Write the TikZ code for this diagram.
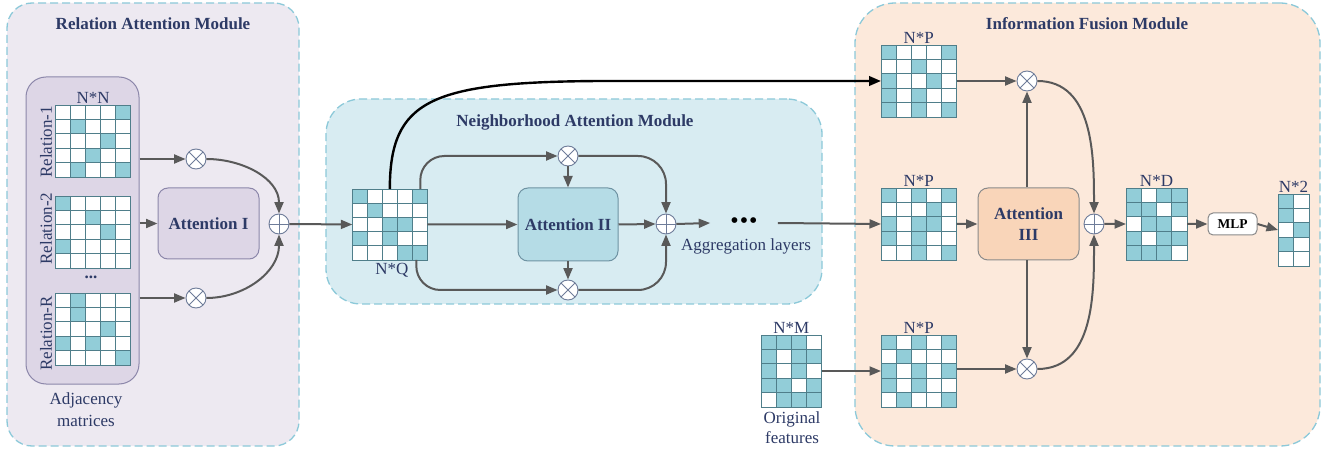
\documentclass[tikz,border=0pt]{standalone}
\usepackage{fontspec}
\setmainfont{Liberation Serif}
\usetikzlibrary{arrows.meta,calc}
\definecolor{ramfill}{HTML}{EDE9F1}
\definecolor{adjfill}{HTML}{DDD6E6}
\definecolor{adjdraw}{HTML}{8C87AA}
\definecolor{namfill}{HTML}{D8ECF2}
\definecolor{attiifill}{HTML}{B5DCE6}
\definecolor{attiidraw}{HTML}{6F93A3}
\definecolor{ifmfill}{HTML}{FCE9DB}
\definecolor{attiiifill}{HTML}{F9D5B9}
\definecolor{boxgray}{HTML}{8A8A8A}
\definecolor{dashc}{HTML}{8CC9D9}
\definecolor{arrgray}{HTML}{595959}
\definecolor{cellon}{HTML}{92CDD8}
\definecolor{gridc}{HTML}{4F7E8A}
\definecolor{circb}{HTML}{6E7C99}
\definecolor{navy}{HTML}{2D3A66}
\newcommand{\fsz}{\fontsize{17}{21}\selectfont}
\newcommand{\gridmat}[8]{%
  \node[inner sep=0pt, outer sep=0pt, minimum width={#4*#6pt}, minimum height={#5*#7pt}, anchor=north west] (#1) at (#2,#3) {};
  \foreach \rw [count=\ri from 0] in {#8} {
    \foreach \val [count=\ci from 0] in \rw {
      \ifnum\val=1\relax\def\cc{cellon}\else\def\cc{white}\fi
      \filldraw[gridln, fill=\cc] ({#2+\ci*#6},{#3+\ri*#7}) rectangle ++(#6,#7);
    }
  }
  \draw[gridln] (#1.north west) rectangle (#1.south east);
}
\begin{document}
\begin{tikzpicture}[x=1pt,y=-1pt,
  modbox/.style={draw=dashc, dash pattern=on 8pt off 4pt, line width=1.3pt, inner sep=0pt},
  gridln/.style={draw=gridc, line width=0.9pt},
  ttl/.style={font=\fsz\bfseries, text=navy},
  lbl/.style={font=\fsz, text=navy},
  attbox/.style={rounded corners=10pt, line width=1pt, font=\fsz\bfseries, text=navy, align=center, inner sep=0pt},
  arr/.style={draw=arrgray, line width=2pt, -{Triangle[length=11.5pt,width=9pt]}},
  blk/.style={draw=black, line width=2.4pt, -{Triangle[length=12pt,width=9.5pt]}},
  otimes/.style={circle, draw=circb, line width=0.9pt, fill=white, minimum size=20pt, inner sep=0pt,
    path picture={\draw[circb, line width=0.9pt] (path picture bounding box.north west) -- (path picture bounding box.south east) (path picture bounding box.north east) -- (path picture bounding box.south west);}},
  oplus/.style={circle, draw=circb, line width=0.9pt, fill=white, minimum size=20pt, inner sep=0pt,
    path picture={\draw[circb, line width=0.9pt] (path picture bounding box.north) -- (path picture bounding box.south) (path picture bounding box.east) -- (path picture bounding box.west);}}
]
\useasboundingbox (0,0) rectangle (1333,454);
\fill[white] (0,0) rectangle (1333,454);

% ---------- module backgrounds
\node[modbox, fill=ramfill, minimum width=292, minimum height=443, rounded corners=25pt] (ram) at (153,224.5) {};
\node[modbox, fill=namfill, minimum width=496, minimum height=205, rounded corners=35pt] (nam) at (574,201.5) {};
\node[modbox, fill=ifmfill, minimum width=465, minimum height=443, rounded corners=40pt] (ifm) at (1087.5,224.5) {};

\node[ttl, anchor=base] (tram) at (153,30) {Relation Attention Module};
\node[ttl, anchor=base] (tnam) at (575,126.5) {Neighborhood Attention Module};
\node[ttl, anchor=base] (tifm) at (1087,30) {Information Fusion Module};

% ---------- relation attention module
\node[draw=adjdraw, fill=adjfill, line width=1pt, rounded corners=20pt, minimum width=113, minimum height=307, inner sep=0pt] (adj) at (82.5,230.5) {};
\gridmat{ma}{55.7}{105}{5}{5}{15}{14.4}{{0,0,0,0,1},{0,1,0,0,0},{0,0,0,1,0},{0,0,1,0,0},{0,1,0,0,1}}
\gridmat{mb}{55.7}{196}{5}{5}{15}{14.4}{{1,0,0,0,0},{0,0,1,0,0},{0,0,0,1,0},{1,0,0,0,0},{0,0,0,0,0}}
\gridmat{mc}{55.7}{293}{5}{5}{15}{14.4}{{0,1,0,0,0},{0,1,0,0,0},{0,0,0,1,0},{1,0,1,0,0},{0,0,0,0,1}}
\node[lbl, anchor=base] (lnn) at ([yshift=1.5pt]ma.north) {N*N};
\node[lbl, rotate=90] (r1) at (46,142) {Relation-1};
\node[lbl, rotate=90] (r2) at (46,228.5) {Relation-2};
\node[lbl, rotate=90] (r3) at (46,333.5) {Relation-R};
\node[font=\fsz\bfseries, text=navy, inner sep=0pt] (vd) at (91,277) {...};
\node[lbl, anchor=base, align=center] (adjl) at (86,404) {Adjacency};
\node[lbl, anchor=base] (adjm) at (86,426) {matrices};

\node[otimes] (oa) at (196,159) {};
\node[otimes] (ob) at (196,298) {};
\node[attbox, draw=adjdraw, fill=adjfill, minimum width=101, minimum height=71] (att1) at (208.5,223.5) {Attention I};
\node[oplus] (pa) at (279,224) {};

\draw[arr] (oa.west -| adj.east) -- (oa.west);
\draw[arr] (ob.west -| adj.east) -- (ob.west);
\draw[arr] (att1.west -| adj.east) -- (att1.west);
\draw[arr] (oa.east) to[out=0,in=90] (pa.north);
\draw[arr] (ob.east) to[out=0,in=-90] (pa.south);

% ---------- neighborhood attention module
\gridmat{nq}{352.3}{189}{5}{5}{15}{14.2}{{1,0,0,0,1},{0,1,0,0,0},{0,0,1,1,0},{1,0,1,0,0},{0,0,0,1,1}}
\node[lbl, anchor=base] (lnq) at ([xshift=2pt,yshift=-15pt]nq.south) {N*Q};
\draw[arr] (pa.east) -- (nq.west);

\node[otimes] (oc) at (568,156) {};
\node[otimes] (od) at (568,290) {};
\node[attbox, draw=attiidraw, fill=attiifill, minimum width=100, minimum height=73] (att2) at (568,224.5) {Attention II};
\node[oplus] (pb) at (666,224) {};
\node[font=\fontsize{24}{24}\selectfont, inner sep=0pt] (dots) at (744,223) {\textbullet\hspace{1pt}\textbullet\hspace{1pt}\textbullet};
\node[lbl, anchor=base] (aggl) at (746,250.5) {Aggregation layers};

\draw[arr] (nq.east) -- (att2.west);
\draw[arr, rounded corners=24pt] ([xshift=-7pt]nq.north east) |- (oc.west);
\draw[arr, rounded corners=24pt] ([xshift=-11pt]nq.south east) |- (od.west);
\draw[arr] (oc.south) -- (att2.north);
\draw[arr] (att2.south) -- (od.north);
\draw[arr] (att2.east) -- (pb.west);
\draw[arr, rounded corners=28pt] (oc.east) -| (pb.north);
\draw[arr, rounded corners=28pt] (od.east) -| (pb.south);
\draw[arr] (pb.east) -- ([xshift=-20pt]dots.west);

% ---------- information fusion module
\gridmat{pa1}{881}{45}{5}{5}{15.1}{14.4}{{1,0,0,0,1},{0,0,1,0,0},{1,0,0,1,0},{1,0,1,0,0},{1,0,1,0,1}}
\gridmat{pa2}{881}{188}{5}{5}{15.1}{14.4}{{1,0,1,0,1},{0,0,0,1,0},{1,0,1,1,0},{1,0,1,0,0},{0,0,1,0,1}}
\gridmat{pa3}{881}{335}{5}{5}{15.1}{14.4}{{1,0,1,0,1},{0,1,0,0,0},{1,0,1,0,1},{1,0,1,0,0},{0,1,0,0,1}}
\node[lbl, anchor=base] (lp1) at ([yshift=1.5pt]pa1.north) {N*P};
\node[lbl, anchor=base] (lp2) at ([yshift=1.5pt]pa2.north) {N*P};
\node[lbl, anchor=base] (lp3) at ([yshift=1.5pt]pa3.north) {N*P};

\gridmat{nm}{761}{335}{4}{5}{15.2}{14.4}{{1,1,1,0},{1,0,1,1},{1,0,1,0},{1,1,0,1},{0,1,1,1}}
\node[lbl, anchor=base] (lnm) at ([yshift=1.5pt]nm.north) {N*M};
\node[lbl, anchor=base] (ofa) at (792,423) {Original};
\node[lbl, anchor=base] (ofb) at (792,443) {features};

\draw[blk] (nq.north) .. controls (390,100) and (430,82) .. (600,81) -- (pa1.west);
\draw[arr] ([xshift=20pt]dots.east) -- (pa2.west);
\draw[arr] (nm.east) -- (pa3.west);

\node[otimes] (oe) at (1027,81) {};
\node[otimes] (of) at (1027,369) {};
\node[attbox, draw=boxgray, fill=attiiifill, minimum width=101, minimum height=72] (att3) at (1028.5,224) {Attention\\III};
\node[oplus] (pc) at (1094,224) {};

\draw[arr] (pa1.east |- oe.west) -- (oe.west);
\draw[arr] (pa3.east |- of.west) -- (of.west);
\draw[arr] (pa2.east) -- (att3.west);
\draw[arr] (att3.north -| oe.south) -- (oe.south);
\draw[arr] (att3.south -| of.north) -- (of.north);
\draw[arr] (oe.east) to[out=0,in=90] (pc.north);
\draw[arr] (of.east) to[out=0,in=-90] (pc.south);

\gridmat{nd}{1126}{188}{4}{5}{15.25}{14.4}{{1,0,1,1},{1,1,0,1},{0,1,1,0},{1,0,1,1},{1,1,1,0}}
\node[lbl, anchor=base] (lnd) at ([yshift=1.5pt]nd.north) {N*D};
\draw[arr] (pc.east) -- (nd.west);

\node[draw=boxgray, fill=white, line width=1pt, rounded corners=5pt, minimum width=49, minimum height=22, inner sep=0pt, font=\fontsize{13.5}{14}\selectfont\bfseries] (mlp) at (1232.5,224) {MLP};
\draw[arr] (nd.east) -- (mlp.west);

\gridmat{n2}{1278}{194}{2}{5}{15.5}{14.4}{{1,0},{1,0},{0,1},{1,0},{0,0}}
\node[lbl, anchor=base] (ln2) at ([yshift=1.5pt]n2.north) {N*2};
\draw[arr] (mlp.east) -- (n2.west);
\end{tikzpicture}
\end{document}
